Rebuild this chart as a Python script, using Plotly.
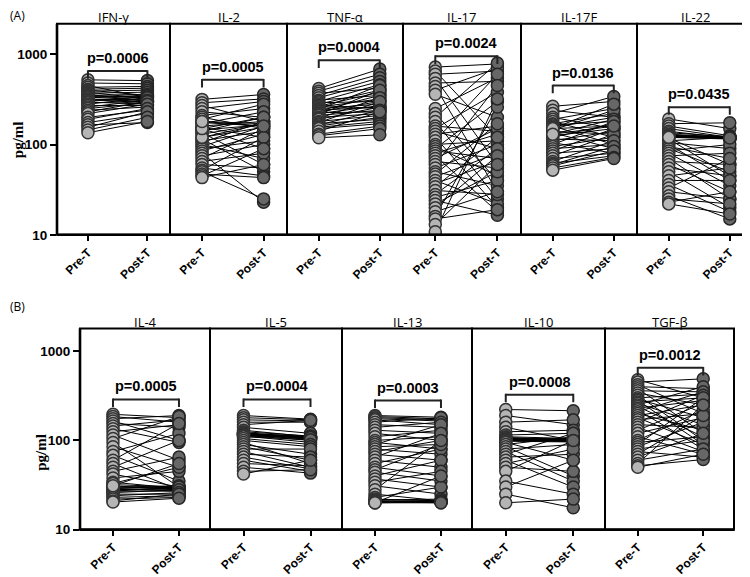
import math
import plotly.graph_objects as go

# ---------------- data ----------------
top_names = ["IFN-γ", "IL-2", "TNF-α", "IL-17", "IL-17F", "IL-22"]
bot_names = ["IL-4", "IL-5", "IL-13", "IL-10", "TGF-β"]
x_labels = ["Pre-T", "Post-T"]

ifng_pre = [520, 480, 450, 430, 410, 400, 390, 380, 370, 360, 350, 345, 340, 335, 330, 320, 315, 310, 300, 295,
            290, 280, 270, 260, 250, 240, 230, 220, 200, 190, 175, 165, 155, 145, 135]
ifng_post = [510, 470, 330, 440, 420, 350, 400, 320, 380, 300, 360, 340, 330, 310, 350, 300, 290, 320, 340, 280,
             300, 330, 270, 310, 290, 260, 300, 280, 240, 250, 220, 175, 230, 200, 180]

il2_pre = [316, 290, 270, 250, 230, 210, 200, 190, 180, 175, 170, 160, 155, 150, 145, 140, 135, 130, 120, 115,
           110, 105, 100, 95, 90, 85, 80, 75, 70, 65, 60, 55, 52, 50, 47, 45, 43, 120, 150, 180]
il2_post = [358, 320, 180, 300, 200, 250, 150, 280, 170, 160, 230, 180, 120, 90, 165, 200, 60, 170, 155, 50,
            140, 180, 70, 160, 110, 130, 23, 100, 150, 80, 55, 45, 120, 25, 43, 90, 60, 170, 200, 160]

tnfa_pre = [417, 390, 370, 350, 330, 310, 300, 290, 280, 270, 265, 260, 250, 245, 240, 235, 230, 225, 220, 215,
            210, 200, 195, 190, 180, 175, 170, 165, 160, 155, 150, 140, 130, 125, 119]
tnfa_post = [685, 600, 420, 550, 500, 350, 460, 300, 400, 250, 380, 320, 280, 450, 260, 350, 300, 230, 270, 400,
             240, 220, 330, 260, 210, 300, 190, 240, 200, 180, 170, 230, 160, 150, 128]

il17_pre = [720, 650, 600, 540, 480, 440, 400, 360,
            250, 220, 200, 180, 160, 150, 140, 130, 120, 110, 100, 95, 90, 85, 80, 75, 70, 65, 60, 55,
            50, 47, 44, 40, 37, 34, 31, 28, 26, 24, 22, 20, 18, 16, 15, 13, 10.8]
il17_post = [780, 120, 650, 60, 500, 30, 700, 200,
             550, 40, 800, 25, 140, 380, 90, 160, 20, 600, 110, 45, 300, 70, 130, 18, 150, 55, 450, 100,
             35, 170, 80, 22, 65, 120, 28, 90, 40, 16.5, 50, 75, 30, 260, 19, 60, 320]

il17f_pre = [265, 240, 220, 200, 190, 180, 170, 165, 160, 155, 150, 145, 140, 135, 130, 125, 120, 115, 110, 105,
             100, 95, 90, 85, 80, 75, 70, 65, 62, 60, 58, 55, 52, 150, 130]
il17f_post = [300, 200, 341, 150, 250, 120, 220, 180, 100, 200, 160, 240, 130, 90, 190, 150, 170, 110, 140, 80,
              180, 120, 100, 150, 90, 130, 80, 110, 75, 95, 85, 72, 70, 280, 160]

il22_pre = [192, 170, 160, 150, 140, 135, 130, 128, 126, 125, 124, 123, 122, 121, 120, 118, 115, 110, 105, 100,
            95, 90, 85, 80, 75, 70, 65, 60, 55, 50, 45, 40, 36, 33, 30, 27, 25, 23, 22, 120]
il22_post = [150, 174, 125, 120, 118, 122, 120, 119, 121, 118, 117, 116, 120, 119, 115, 60, 45, 120, 90, 40,
             70, 50, 100, 35, 80, 25, 60, 30, 45, 20, 55, 40, 18, 70, 25, 15, 22, 30, 17, 118]

il4_pre = [196, 185, 175, 165, 155, 145, 135, 125, 115, 105, 95, 85, 75, 68, 60, 55, 50, 45, 42, 38,
           34, 32, 31, 30, 30, 29, 29, 28, 28, 27, 27, 26, 25, 24, 23, 22, 21, 20.4, 33, 31]
il4_post = [180, 160, 190, 100, 140, 170, 95, 150, 60, 185, 30, 50, 120, 35, 155, 28, 100, 65, 30, 45,
            29, 30, 28, 31, 29, 30, 27, 28, 29, 30, 27, 28, 25, 26, 24, 23, 25, 22.5, 50, 55]

il5_pre = [190, 180, 170, 160, 150, 140, 130, 125, 122, 120, 120, 119, 118, 118, 117, 116, 115, 114, 113, 112,
           110, 105, 100, 95, 90, 85, 80, 75, 70, 65, 60, 55, 50, 45, 42]
il5_post = [173, 170, 165, 160, 168, 120, 110, 112, 108, 110, 105, 109, 107, 104, 111, 106, 103, 100, 108, 95,
            102, 90, 85, 55, 70, 60, 80, 50, 65, 48, 45, 52, 43, 47, 60]

il13_pre = [190, 185, 180, 175, 170, 160, 150, 140, 130, 120, 110, 100, 95, 90, 85, 80, 75, 70, 65, 60,
            55, 50, 47, 44, 40, 37, 34, 31, 28, 25, 23, 22, 21.5, 21, 21, 20.5, 20.5, 20, 20, 20]
il13_post = [182, 175, 170, 165, 150, 180, 140, 160, 120, 100, 130, 110, 80, 150, 90, 70, 100, 60, 120, 50,
             80, 40, 90, 35, 60, 30, 45, 25, 100, 21, 30, 21, 22, 21, 20.5, 21, 20, 20.5, 20, 40]

il10_pre = [222, 190, 160, 140, 125, 115, 110, 108, 106, 105, 104, 103, 103, 102, 102, 101, 100, 100, 99, 98,
            95, 90, 85, 80, 75, 70, 65, 60, 55, 50, 45, 35, 30, 25, 20]
il10_post = [215, 150, 170, 100, 130, 120, 105, 100, 104, 102, 100, 101, 99, 103, 100, 98, 102, 97, 100, 96,
             60, 110, 40, 90, 35, 120, 70, 30, 80, 45, 100, 25, 60, 17.6, 22]

tgfb_pre = [478, 450, 420, 400, 380, 360, 340, 320, 300, 290, 280, 270, 260, 250, 240, 230, 220, 210, 200, 190,
            180, 170, 160, 150, 140, 130, 120, 110, 100, 95, 90, 85, 80, 75, 70, 65, 60, 55, 52, 50]
tgfb_post = [300, 490, 200, 380, 120, 350, 250, 100, 330, 180, 90, 300, 150, 400, 110, 280, 80, 350, 130, 250,
             90, 200, 320, 140, 75, 260, 180, 70, 220, 110, 300, 160, 100, 65, 190, 120, 80, 250, 61, 70]

top_pre = [ifng_pre, il2_pre, tnfa_pre, il17_pre, il17f_pre, il22_pre]
top_post = [ifng_post, il2_post, tnfa_post, il17_post, il17f_post, il22_post]
bot_pre = [il4_pre, il5_pre, il13_pre, il10_pre, tgfb_pre]
bot_post = [il4_post, il5_post, il13_post, il10_post, tgfb_post]

top_p = ["p=0.0006", "p=0.0005", "p=0.0004", "p=0.0024", "p=0.0136", "p=0.0435"]
bot_p = ["p=0.0005", "p=0.0004", "p=0.0003", "p=0.0008", "p=0.0012"]
top_bracket = [650, 520, 855, 950, 449, 259]
bot_bracket = [288, 288, 280, 325, 650]

# ---------------- layout geometry (pixels) ----------------
W, H = 750, 577
top_edges = [49, 162, 279, 395, 513, 629, 745]
bot_edges = [72, 202, 334, 464, 597, 726]
top_y = (16, 230)
bot_y = (325, 529)


def px(x):
    return x / W


def py(y):
    return 1 - y / H


fig = go.Figure()
layout = dict(
    width=W, height=H, margin=dict(l=0, r=0, t=0, b=0),
    paper_bgcolor="white", plot_bgcolor="white", showlegend=False,
    font=dict(family="Liberation Sans, Arial", color="black"),
)
shapes = []
annotations = []

bold_tick = dict(family="Liberation Sans, Arial", size=13.5, color="black")

rows = [
    dict(names=top_names, pre=top_pre, post=top_post, p=top_p, br=top_bracket, edges=top_edges,
         yb=top_y, yaxis="y", ylayout="yaxis", yrange=[1, 3.337], xrange=[-0.52, 1.38], start=1),
    dict(names=bot_names, pre=bot_pre, post=bot_post, p=bot_p, br=bot_bracket, edges=bot_edges,
         yb=bot_y, yaxis="y2", ylayout="yaxis2", yrange=[1, 3.254], xrange=[-0.5, 1.47], start=7),
]

line_traces, pre_traces, post_traces, br_traces = [], [], [], []

for row in rows:
    for i, name in enumerate(row["names"]):
        k = row["start"] + i
        xname = "x" if k == 1 else f"x{k}"
        xl = "xaxis" if k == 1 else f"xaxis{k}"
        x0p, x1p = row["edges"][i], row["edges"][i + 1]
        layout[xl] = dict(
            domain=[px(x0p), px(x1p)], anchor=row["yaxis"], range=row["xrange"],
            tickvals=[0, 1], ticktext=[f"<b>{t}</b>" for t in x_labels], tickangle=-45,
            ticks="outside", ticklen=5, tickwidth=2, tickcolor="black",
            tickfont=dict(family="Liberation Sans, Arial", size=12, color="black"),
            showline=False, showgrid=False, zeroline=False, fixedrange=True,
        )
        pre = row["pre"][i]
        post = row["post"][i]
        lx, ly = [], []
        for a, b in zip(pre, post):
            lx += [0, 1, None]
            ly += [a, b, None]
        line_traces.append(go.Scatter(x=lx, y=ly, xaxis=xname, yaxis=row["yaxis"], mode="lines",
                                      line=dict(color="black", width=1), hoverinfo="skip"))
        pre_traces.append(go.Scatter(x=[0] * len(pre), y=pre, xaxis=xname, yaxis=row["yaxis"], mode="markers",
                                     marker=dict(size=12, color="#b5b5b5", line=dict(color="#333333", width=1.5))))
        post_traces.append(go.Scatter(x=[1] * len(post), y=post, xaxis=xname, yaxis=row["yaxis"], mode="markers",
                                      marker=dict(size=12, color="#676767", line=dict(color="#262626", width=1.5))))
        v = row["br"][i]
        lo = v / 10 ** 0.085
        hi = v * 10 ** 0.01
        br_traces.append(go.Scatter(x=[0, 0, None, 0, 1, None, 1, 1], y=[lo, hi, None, v, v, None, lo, hi],
                                    xaxis=xname, yaxis=row["yaxis"], mode="lines",
                                    line=dict(color="#222", width=2), hoverinfo="skip"))
        annotations.append(dict(x=0.5, y=math.log10(v), xref=xname, yref=row["yaxis"], text=f"<b>{row['p'][i]}</b>",
                                showarrow=False, yanchor="bottom", yshift=3,
                                font=dict(family="Liberation Sans, Arial", size=14.5, color="black")))
        # panel title
        annotations.append(dict(x=px((x0p + x1p) / 2), y=py(row["yb"][0] - 7), xref="paper", yref="paper",
                                text=name, showarrow=False, xanchor="center", yanchor="middle",
                                font=dict(family="Open Sans", size=13, color="black")))
        # panel box
        shapes.append(dict(type="rect", xref="paper", yref="paper", x0=px(x0p), x1=px(x1p),
                           y0=py(row["yb"][1]), y1=py(row["yb"][0]), line=dict(color="black", width=2)))
    # thicker bottom / left axis line
    shapes.append(dict(type="line", xref="paper", yref="paper", x0=px(row["edges"][0]), x1=px(row["edges"][-1]),
                       y0=py(row["yb"][1]), y1=py(row["yb"][1]), line=dict(color="black", width=2.6)))
    shapes.append(dict(type="line", xref="paper", yref="paper", x0=px(row["edges"][0]), x1=px(row["edges"][0]),
                       y0=py(row["yb"][1]), y1=py(row["yb"][0]), line=dict(color="black", width=2.6)))
    first_x = "x" if row["start"] == 1 else f"x{row['start']}"
    layout[row["ylayout"]] = dict(
        domain=[py(row["yb"][1]), py(row["yb"][0])], anchor=first_x, type="log", range=row["yrange"],
        tickvals=[10, 100, 1000], ticktext=["<b>10</b>", "<b>100</b>", "<b>1000</b>"],
        ticks="outside", ticklen=6, tickwidth=2, tickcolor="black", tickfont=bold_tick,
        showline=False, showgrid=False, zeroline=False, fixedrange=True,
    )

for t in line_traces + pre_traces + post_traces + br_traces:
    fig.add_trace(t)

# y-axis labels and panel letters
ylab_font = dict(family="Liberation Serif, Times New Roman", size=15, color="black")
annotations.append(dict(x=px(10), y=py(134), xref="paper", yref="paper", text="<b>pg/ml</b>", textangle=-90,
                        showarrow=False, xanchor="center", yanchor="middle", font=ylab_font))
annotations.append(dict(x=px(33), y=py(451), xref="paper", yref="paper", text="<b>pg/ml</b>", textangle=-90,
                        showarrow=False, xanchor="center", yanchor="middle", font=ylab_font))
annotations.append(dict(x=0, y=py(8), xref="paper", yref="paper", text="(A)", showarrow=False,
                        xanchor="left", yanchor="middle", font=dict(family="Open Sans", size=12, color="black")))
annotations.append(dict(x=0, y=py(303), xref="paper", yref="paper", text="(B)", showarrow=False,
                        xanchor="left", yanchor="middle", font=dict(family="Open Sans", size=12, color="black")))

layout["shapes"] = shapes
layout["annotations"] = annotations
fig.update_layout(**layout)
fig.write_html("out.html")
